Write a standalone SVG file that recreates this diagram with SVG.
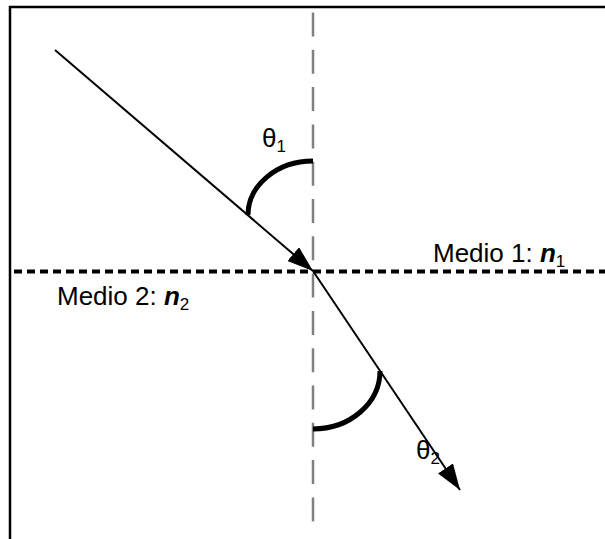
<svg xmlns="http://www.w3.org/2000/svg" width="605" height="539" viewBox="0 0 605 539">
<style>
.lbl{font-family:"Liberation Sans",Arial,sans-serif;font-size:26px;fill:#000}
.sub{font-size:17px}
.ray{stroke:#000;stroke-width:2;fill:none}
.arc{stroke:#000;stroke-width:5;fill:none}
</style>
<defs>
<marker id="ah" markerWidth="26" markerHeight="18" refX="26" refY="9" orient="auto" markerUnits="userSpaceOnUse">
<path d="M0,0 L26,9 L0,18 Z" fill="#000"/>
</marker>
</defs>
<rect x="10" y="7" width="700" height="700" fill="#fff" stroke="#000" stroke-width="2.5"/>
<g id="normal">
<line x1="313" y1="12.5" x2="313" y2="524" stroke="#808080" stroke-width="2.5" stroke-dasharray="24 13.3"/>
</g>
<g id="interface">
<line x1="14" y1="271.5" x2="605" y2="271.5" stroke="#000" stroke-width="4" stroke-dasharray="8 5"/>
</g>
<g id="connectors">
<line class="ray" x1="55" y1="50" x2="313" y2="271" marker-end="url(#ah)"/>
<line class="ray" x1="313" y1="271" x2="460" y2="490" marker-end="url(#ah)"/>
</g>
<g id="angle1">
<path class="arc" d="M248,215 A65,54 0 0,1 313,161"/>
<text class="lbl" x="262" y="147">θ<tspan class="sub" dy="5">1</tspan></text>
</g>
<g id="angle2">
<path class="arc" d="M313,429 A67,58 0 0,0 380,371"/>
<text class="lbl" x="416" y="459">θ<tspan class="sub" dy="5">2</tspan></text>
</g>
<g id="medio1">
<text class="lbl" x="433" y="262">Medio 1: <tspan font-weight="bold" font-style="italic">n</tspan><tspan class="sub" dy="5">1</tspan></text>
</g>
<g id="medio2">
<text class="lbl" x="57" y="305">Medio 2: <tspan font-weight="bold" font-style="italic">n</tspan><tspan class="sub" dy="5">2</tspan></text>
</g>
</svg>
